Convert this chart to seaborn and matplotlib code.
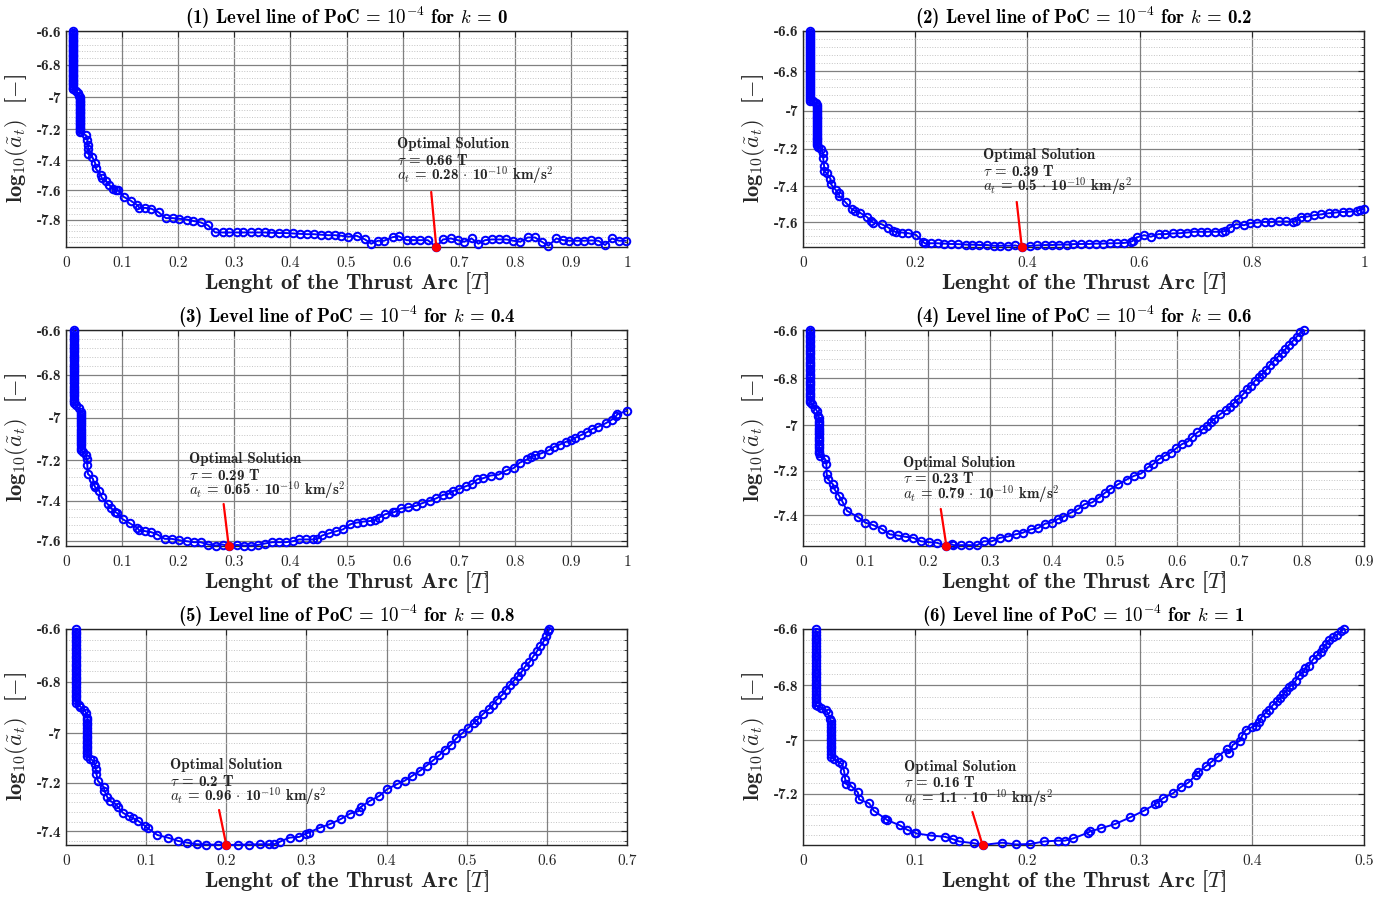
import numpy as np
import pandas as pd
import matplotlib
matplotlib.use("Agg")
import matplotlib.pyplot as plt
from matplotlib.ticker import FixedLocator
import seaborn as sns

# ------------------------------------------------------------------
# Level lines of PoC = 1e-4: thrust-arc length (fraction of T) versus
# log10 of the normalised thrust acceleration, one block per k value.
# Each curve: first vertical run, short transition, second vertical
# run, then the remaining points.
# ------------------------------------------------------------------
k_values = ["0", "0.2", "0.4", "0.6", "0.8", "1"]

# optimal solutions (tau in units of T, a_t in 1e-10 km/s^2)
tau_opt = [0.66, 0.39, 0.29, 0.23, 0.2, 0.16]
at_opt = [0.28, 0.5, 0.65, 0.79, 0.96, 1.1]
ACC_UNIT = 2.75e-3  # km/s^2, acceleration unit used for the normalisation

x_max = [1.0, 1.0, 1.0, 0.9, 0.7, 0.5]
x_step = [0.1, 0.2, 0.1, 0.1, 0.1, 0.1]

# ---- k = 0 ----
k0_run1_tau = 0.013
k0_run1 = [-6.60, -6.61, -6.62, -6.63, -6.64, -6.65, -6.66, -6.67, -6.68, -6.69, -6.70, -6.71,
           -6.72, -6.73, -6.74, -6.75, -6.76, -6.77, -6.78, -6.79, -6.80, -6.81, -6.82, -6.83,
           -6.84, -6.85, -6.86, -6.87, -6.88, -6.89, -6.90, -6.91, -6.92, -6.93, -6.94, -6.95]
k0_mid_tau = [0.018, 0.021, 0.024]
k0_mid = [-6.96, -6.97, -6.99]
k0_run2_tau = 0.025
k0_run2 = [-7.00, -7.01, -7.02, -7.03, -7.04, -7.05, -7.06, -7.07, -7.08, -7.09, -7.10, -7.11,
           -7.12, -7.13, -7.14, -7.15, -7.16, -7.17, -7.18, -7.19, -7.20, -7.21, -7.22]
k0_tail_tau = [0.036, 0.038, 0.039, 0.040, 0.040, 0.047, 0.052, 0.053, 0.062, 0.064, 0.072, 0.077,
               0.084, 0.089, 0.093, 0.103, 0.115, 0.127, 0.131, 0.141, 0.152, 0.165, 0.178, 0.190,
               0.202, 0.215, 0.227, 0.240, 0.253, 0.266, 0.279, 0.291, 0.304, 0.316, 0.329, 0.342,
               0.354, 0.366, 0.379, 0.392, 0.405, 0.417, 0.429, 0.442, 0.455, 0.467, 0.479, 0.491,
               0.503, 0.518, 0.533, 0.544, 0.556, 0.567, 0.582, 0.593, 0.607, 0.619, 0.631, 0.645,
               0.660, 0.672, 0.686, 0.698, 0.710, 0.723, 0.735, 0.747, 0.759, 0.772, 0.785, 0.797,
               0.810, 0.823, 0.836, 0.848, 0.860, 0.874, 0.886, 0.897, 0.910, 0.923, 0.936, 0.949,
               0.961, 0.973, 0.986, 0.998]
k0_tail = [-7.24, -7.27, -7.30, -7.33, -7.36, -7.38, -7.42, -7.455, -7.50, -7.52, -7.54, -7.565,
           -7.59, -7.60, -7.60, -7.645, -7.67, -7.70, -7.72, -7.72, -7.725, -7.75, -7.79, -7.79,
           -7.795, -7.80, -7.81, -7.82, -7.84, -7.89, -7.89, -7.89, -7.89, -7.89, -7.89, -7.89,
           -7.89, -7.892, -7.894, -7.894, -7.897, -7.899, -7.902, -7.902, -7.906, -7.909, -7.909, -7.913,
           -7.92, -7.913, -7.939, -7.969, -7.948, -7.948, -7.923, -7.916, -7.944, -7.944, -7.944, -7.944,
           -7.992, -7.939, -7.932, -7.944, -7.955, -7.932, -7.969, -7.944, -7.939, -7.939, -7.939, -7.948,
           -7.955, -7.925, -7.925, -7.955, -7.983, -7.932, -7.944, -7.948, -7.948, -7.948, -7.946, -7.948,
           -7.978, -7.932, -7.948, -7.948]

# ---- k = 0.2 ----
k2_run1_tau = 0.013
k2_run1 = [-6.60, -6.61, -6.62, -6.63, -6.64, -6.65, -6.66, -6.67, -6.68, -6.69, -6.70, -6.71,
           -6.72, -6.73, -6.74, -6.75, -6.76, -6.77, -6.78, -6.79, -6.80, -6.81, -6.82, -6.83,
           -6.84, -6.85, -6.86, -6.87, -6.88, -6.89, -6.90, -6.91, -6.92, -6.93, -6.94, -6.95]
k2_mid_tau = [0.018, 0.0226]
k2_mid = [-6.95, -6.96]
k2_run2_tau = 0.0246
k2_run2 = [-6.97, -6.98, -6.99, -7.00, -7.01, -7.02, -7.03, -7.04, -7.05, -7.06, -7.07, -7.08,
           -7.09, -7.10, -7.11, -7.12, -7.13, -7.14, -7.15, -7.16, -7.17, -7.18]
k2_tail_tau = [0.027, 0.032, 0.0355, 0.036, 0.0376, 0.038, 0.042, 0.049, 0.050, 0.058,
               0.0636, 0.065, 0.076, 0.087, 0.092, 0.101, 0.114, 0.121, 0.125, 0.140,
               0.152, 0.161, 0.165, 0.176, 0.188, 0.2016, 0.214, 0.217, 0.228, 0.240,
               0.2515, 0.263, 0.277, 0.291, 0.302, 0.314, 0.328, 0.340, 0.352, 0.366,
               0.378, 0.390, 0.404, 0.4176, 0.431, 0.444, 0.456, 0.470, 0.482, 0.4956,
               0.509, 0.5215, 0.535, 0.547, 0.5605, 0.573, 0.584, 0.588, 0.595, 0.608,
               0.620, 0.634, 0.646, 0.660, 0.672, 0.685, 0.697, 0.710, 0.721, 0.735,
               0.747, 0.752, 0.761, 0.772, 0.786, 0.796, 0.810, 0.824, 0.835, 0.848,
               0.861, 0.873, 0.878, 0.887, 0.899, 0.911, 0.924, 0.937, 0.949, 0.962,
               0.974, 0.988, 0.992, 1.000]
k2_tail = [-7.19, -7.20, -7.22, -7.25, -7.29, -7.32, -7.33, -7.36, -7.39, -7.42,
           -7.44, -7.455, -7.49, -7.527, -7.535, -7.546, -7.571, -7.593, -7.602, -7.611,
           -7.630, -7.649, -7.655, -7.658, -7.662, -7.672, -7.711, -7.719, -7.719, -7.719,
           -7.721, -7.723, -7.724, -7.727, -7.727, -7.729, -7.729, -7.733, -7.733, -7.733,
           -7.731, -7.740, -7.734, -7.731, -7.729, -7.729, -7.727, -7.727, -7.724, -7.723,
           -7.723, -7.721, -7.721, -7.719, -7.719, -7.717, -7.711, -7.705, -7.686, -7.673,
           -7.682, -7.667, -7.667, -7.663, -7.662, -7.658, -7.654, -7.654, -7.654, -7.654,
           -7.654, -7.649, -7.630, -7.611, -7.617, -7.606, -7.602, -7.598, -7.598, -7.596,
           -7.596, -7.598, -7.593, -7.571, -7.569, -7.561, -7.556, -7.550, -7.546, -7.543,
           -7.541, -7.539, -7.533, -7.527]

# ---- k = 0.4 ----
k4_run1_tau = 0.0137
k4_run1 = [-6.60, -6.61, -6.62, -6.63, -6.64, -6.65, -6.66, -6.67, -6.68, -6.69, -6.70, -6.71,
           -6.72, -6.73, -6.74, -6.75, -6.76, -6.77, -6.78, -6.79, -6.80, -6.81, -6.82, -6.83,
           -6.84, -6.85, -6.86, -6.87, -6.88, -6.89, -6.90, -6.91, -6.92, -6.93]
k4_mid_tau = [0.018, 0.0226]
k4_mid = [-6.94, -6.955]
k4_run2_tau = 0.026
k4_run2 = [-6.97, -6.98, -6.99, -7.00, -7.01, -7.02, -7.03, -7.04, -7.05, -7.06, -7.07, -7.08,
           -7.09, -7.10, -7.11, -7.12, -7.13, -7.14, -7.15]
k4_tail_tau = [0.031, 0.035, 0.037, 0.038, 0.039, 0.048, 0.050, 0.052, 0.059, 0.0636,
               0.074, 0.081, 0.0875, 0.091, 0.101, 0.1135, 0.127, 0.130, 0.141, 0.152,
               0.163, 0.176, 0.1887, 0.202, 0.215, 0.2276, 0.240, 0.2536, 0.2666, 0.279,
               0.290, 0.305, 0.317, 0.329, 0.342, 0.354, 0.368, 0.380, 0.392, 0.405,
               0.4156, 0.428, 0.441, 0.448, 0.4566, 0.469, 0.482, 0.494, 0.506, 0.518,
               0.530, 0.542, 0.551, 0.558, 0.569, 0.583, 0.5865, 0.597, 0.610, 0.624,
               0.634, 0.648, 0.660, 0.672, 0.682, 0.689, 0.701, 0.713, 0.7245, 0.733,
               0.744, 0.757, 0.771, 0.785, 0.798, 0.8086, 0.822, 0.829, 0.836, 0.846,
               0.861, 0.870, 0.880, 0.891, 0.901, 0.908, 0.918, 0.928, 0.9385, 0.949,
               0.962, 0.973, 0.980, 0.983, 1.000]
k4_tail = [-7.161, -7.174, -7.193, -7.226, -7.267, -7.291, -7.321, -7.332, -7.349, -7.382,
           -7.415, -7.437, -7.454, -7.460, -7.491, -7.511, -7.534, -7.546, -7.551, -7.556,
           -7.568, -7.590, -7.590, -7.597, -7.602, -7.607, -7.607, -7.619, -7.624, -7.619,
           -7.626, -7.621, -7.624, -7.624, -7.621, -7.614, -7.607, -7.607, -7.607, -7.602,
           -7.593, -7.593, -7.593, -7.590, -7.573, -7.562, -7.551, -7.542, -7.517, -7.508,
           -7.503, -7.500, -7.496, -7.483, -7.466, -7.457, -7.454, -7.437, -7.432, -7.424,
           -7.412, -7.399, -7.387, -7.370, -7.365, -7.352, -7.341, -7.327, -7.316, -7.294,
           -7.288, -7.275, -7.271, -7.250, -7.239, -7.213, -7.197, -7.185, -7.177, -7.169,
           -7.153, -7.137, -7.126, -7.113, -7.105, -7.093, -7.081, -7.068, -7.052, -7.041,
           -7.025, -7.008, -6.993, -6.982, -6.967]

# ---- k = 0.6 ----
k6_run1_tau = 0.0117
k6_run1 = [-6.60, -6.61, -6.62, -6.63, -6.64, -6.65, -6.66, -6.67, -6.68, -6.69, -6.70, -6.71,
           -6.72, -6.73, -6.74, -6.75, -6.76, -6.77, -6.78, -6.79, -6.80, -6.81, -6.82, -6.83,
           -6.84, -6.85, -6.86, -6.87, -6.88, -6.89, -6.90]
k6_mid_tau = [0.015, 0.020, 0.0227, 0.0246]
k6_mid = [-6.91, -6.93, -6.94, -6.96]
k6_run2_tau = 0.0258
k6_run2 = [-6.97, -6.98, -6.99, -7.00, -7.01, -7.02, -7.03, -7.04, -7.05, -7.06, -7.07, -7.08,
           -7.09, -7.10, -7.11, -7.12]
k6_tail_tau = [0.0276, 0.0356, 0.0375, 0.038, 0.040, 0.048, 0.0504, 0.058, 0.0627, 0.0706,
               0.088, 0.100, 0.1124, 0.126, 0.1394, 0.1517, 0.164, 0.177, 0.189, 0.2015,
               0.215, 0.230, 0.2396, 0.241, 0.2537, 0.266, 0.2795, 0.290, 0.303, 0.3163,
               0.3286, 0.341, 0.353, 0.3655, 0.3765, 0.389, 0.399, 0.4085, 0.4177, 0.430,
               0.441, 0.4515, 0.4638, 0.4748, 0.485, 0.493, 0.5055, 0.519, 0.5313, 0.5424,
               0.5528, 0.562, 0.5713, 0.580, 0.590, 0.599, 0.608, 0.6173, 0.6235, 0.6327,
               0.642, 0.648, 0.654, 0.660, 0.6695, 0.679, 0.685, 0.691, 0.698, 0.7064,
               0.7125, 0.7187, 0.725, 0.731, 0.737, 0.743, 0.7494, 0.7555, 0.7617, 0.768,
               0.774, 0.780, 0.786, 0.792, 0.798, 0.803]
k6_tail = [-7.134, -7.148, -7.170, -7.215, -7.237, -7.260, -7.282, -7.312, -7.335, -7.380,
           -7.408, -7.434, -7.445, -7.462, -7.488, -7.493, -7.499, -7.504, -7.520, -7.524,
           -7.527, -7.542, -7.535, -7.538, -7.538, -7.538, -7.538, -7.520, -7.520, -7.504,
           -7.498, -7.488, -7.480, -7.465, -7.460, -7.438, -7.434, -7.418, -7.408, -7.388,
           -7.373, -7.350, -7.342, -7.320, -7.297, -7.282, -7.260, -7.239, -7.222, -7.212,
           -7.185, -7.170, -7.148, -7.134, -7.119, -7.100, -7.082, -7.071, -7.053, -7.031,
           -7.017, -7.002, -6.988, -6.973, -6.952, -6.935, -6.920, -6.905, -6.888, -6.866,
           -6.845, -6.831, -6.810, -6.796, -6.782, -6.765, -6.743, -6.726, -6.710, -6.696,
           -6.678, -6.660, -6.644, -6.627, -6.610, -6.600]

# ---- k = 0.8 ----
k8_run1_tau = 0.0124
k8_run1 = [-6.60, -6.61, -6.62, -6.63, -6.64, -6.65, -6.66, -6.67, -6.68, -6.69, -6.70, -6.71,
           -6.72, -6.73, -6.74, -6.75, -6.76, -6.77, -6.78, -6.79, -6.80, -6.81, -6.82, -6.83,
           -6.84, -6.85, -6.86, -6.87, -6.88]
k8_mid_tau = [0.0158, 0.018, 0.023, 0.0254]
k8_mid = [-6.889, -6.896, -6.909, -6.922]
k8_run2_tau = 0.0268
k8_run2 = [-6.94, -6.95, -6.96, -6.97, -6.98, -6.99, -7.00, -7.01, -7.02, -7.03, -7.04, -7.05,
           -7.06, -7.07, -7.08, -7.09]
k8_tail_tau = [0.030, 0.0335, 0.036, 0.037, 0.038, 0.0397, 0.047, 0.048, 0.0517, 0.055,
               0.062, 0.0646, 0.0708, 0.078, 0.0837, 0.090, 0.0986, 0.102, 0.114, 0.127,
               0.140, 0.151, 0.163, 0.175, 0.1895, 0.200, 0.2144, 0.2278, 0.242, 0.2536,
               0.260, 0.267, 0.279, 0.291, 0.2995, 0.303, 0.317, 0.329, 0.3426, 0.3545,
               0.365, 0.368, 0.3794, 0.391, 0.401, 0.413, 0.4225, 0.432, 0.442, 0.450,
               0.458, 0.4656, 0.4727, 0.480, 0.487, 0.4943, 0.5014, 0.5086, 0.513, 0.5206,
               0.5277, 0.5325, 0.5373, 0.5445, 0.549, 0.554, 0.5589, 0.5636, 0.568, 0.573,
               0.578, 0.583, 0.5876, 0.592, 0.596, 0.5995, 0.602, 0.603]
k8_tail = [-7.103, -7.109, -7.123, -7.143, -7.164, -7.191, -7.216, -7.232, -7.259, -7.273,
           -7.287, -7.298, -7.322, -7.336, -7.345, -7.356, -7.377, -7.387, -7.415, -7.426,
           -7.440, -7.447, -7.454, -7.455, -7.456, -7.457, -7.456, -7.455, -7.454, -7.454,
           -7.454, -7.443, -7.426, -7.423, -7.409, -7.405, -7.384, -7.370, -7.349, -7.326,
           -7.315, -7.298, -7.273, -7.253, -7.225, -7.205, -7.191, -7.171, -7.150, -7.130,
           -7.109, -7.089, -7.066, -7.048, -7.021, -7.001, -6.981, -6.961, -6.948, -6.924,
           -6.906, -6.889, -6.869, -6.850, -6.830, -6.811, -6.795, -6.779, -6.764, -6.741,
           -6.726, -6.703, -6.684, -6.663, -6.646, -6.628, -6.609, -6.600]

# ---- k = 1 ----
k10_run1_tau = 0.0113
k10_run1 = [-6.60, -6.61, -6.62, -6.63, -6.64, -6.65, -6.66, -6.67, -6.68, -6.69, -6.70, -6.71,
            -6.72, -6.73, -6.74, -6.75, -6.76, -6.77, -6.78, -6.79, -6.80, -6.81, -6.82, -6.83,
            -6.84, -6.85, -6.86, -6.87]
k10_mid_tau = [0.0137, 0.016, 0.0205, 0.022, 0.024]
k10_mid = [-6.875, -6.88, -6.89, -6.90, -6.92]
k10_run2_tau = 0.025
k10_run2 = [-6.93, -6.94, -6.95, -6.96, -6.97, -6.98, -6.99, -7.00, -7.01, -7.02, -7.03, -7.04,
            -7.05, -7.06]
k10_tail_tau = [0.0273, 0.0318, 0.035, 0.0366, 0.0376, 0.0386, 0.0427, 0.0489, 0.050, 0.059,
                0.063, 0.0735, 0.075, 0.0865, 0.093, 0.100, 0.101, 0.1138, 0.1265, 0.134,
                0.139, 0.152, 0.160, 0.1777, 0.190, 0.2027, 0.215, 0.227, 0.2334, 0.241,
                0.254, 0.256, 0.2656, 0.2785, 0.2915, 0.304, 0.314, 0.316, 0.321, 0.330,
                0.337, 0.3435, 0.350, 0.352, 0.359, 0.364, 0.370, 0.3777, 0.380, 0.383,
                0.3896, 0.3913, 0.3947, 0.3999, 0.4033, 0.4067, 0.4084, 0.4125, 0.4152, 0.4187,
                0.4228, 0.4255, 0.4282, 0.4306, 0.433, 0.4357, 0.439, 0.442, 0.446, 0.4477,
                0.451, 0.4545, 0.458, 0.4614, 0.4638, 0.4665, 0.4692, 0.4727, 0.476, 0.4795,
                0.482]
k10_tail = [-7.070, -7.080, -7.089, -7.114, -7.145, -7.164, -7.170, -7.195, -7.222, -7.237,
            -7.265, -7.296, -7.301, -7.322, -7.339, -7.350, -7.353, -7.361, -7.366, -7.376,
            -7.384, -7.391, -7.398, -7.389, -7.396, -7.394, -7.384, -7.381, -7.381, -7.372,
            -7.350, -7.345, -7.333, -7.316, -7.291, -7.265, -7.240, -7.234, -7.217, -7.198,
            -7.174, -7.158, -7.130, -7.119, -7.097, -7.080, -7.060, -7.032, -7.047, -7.017,
            -7.001, -6.983, -6.961, -6.952, -6.946, -6.932, -6.916, -6.898, -6.888, -6.871,
            -6.856, -6.844, -6.832, -6.820, -6.804, -6.800, -6.784, -6.764, -6.752, -6.737,
            -6.729, -6.707, -6.693, -6.682, -6.666, -6.651, -6.637, -6.628, -6.620, -6.608,
            -6.600]

curves = [
    (k0_run1_tau, k0_run1, k0_mid_tau, k0_mid, k0_run2_tau, k0_run2, k0_tail_tau, k0_tail),
    (k2_run1_tau, k2_run1, k2_mid_tau, k2_mid, k2_run2_tau, k2_run2, k2_tail_tau, k2_tail),
    (k4_run1_tau, k4_run1, k4_mid_tau, k4_mid, k4_run2_tau, k4_run2, k4_tail_tau, k4_tail),
    (k6_run1_tau, k6_run1, k6_mid_tau, k6_mid, k6_run2_tau, k6_run2, k6_tail_tau, k6_tail),
    (k8_run1_tau, k8_run1, k8_mid_tau, k8_mid, k8_run2_tau, k8_run2, k8_tail_tau, k8_tail),
    (k10_run1_tau, k10_run1, k10_mid_tau, k10_mid, k10_run2_tau, k10_run2, k10_tail_tau, k10_tail),
]


def curve_frame(r1_tau, r1, m_tau, m, r2_tau, r2, t_tau, t):
    tau = [r1_tau] * len(r1) + list(m_tau) + [r2_tau] * len(r2) + list(t_tau)
    acc = list(r1) + list(m) + list(r2) + list(t)
    return pd.DataFrame({"tau": tau, "acc": acc})


# y axis: logarithmic in |log10(a)| (values are all negative)
def y_forward(y):
    y = np.asarray(y, dtype=float)
    return -np.log10(np.clip(-y, 1e-6, None))


def y_inverse(z):
    z = np.asarray(z, dtype=float)
    return -np.power(10.0, -z)


def fmt(v):
    return f"{v:g}"


# ---- style ----
sns.set_theme(style="white")
plt.rcParams["font.family"] = ["cmb10"]
plt.rcParams["mathtext.fontset"] = "cm"
plt.rcParams["axes.unicode_minus"] = False

BLUE = "#0000ff"
RED = "#ff0000"
INK = "#262626"

W, H = 1391, 898
fig = plt.figure(figsize=(W / 100, H / 100), dpi=100)
fig.patch.set_facecolor("white")

ax_w, ax_h = 561, 216
lefts = [66, 803]
bottoms = [247, 546, 845]

# annotation layout: height of the first text line and of the leader top above the point (px)
note_layout = [(103, 55), (92, 45), (87, 42), (83, 37), (80, 35), (78, 33)]

for i in range(6):
    row, col = divmod(i, 2)
    ax = fig.add_axes([lefts[col] / W, 1 - bottoms[row] / H, ax_w / W, ax_h / H])
    ax.set_facecolor("white")
    df = curve_frame(*curves[i])

    y_opt = float(np.log10(at_opt[i] * 1e-10 / ACC_UNIT))
    y_min = min(df["acc"].min(), y_opt)

    sns.lineplot(data=df, x="tau", y="acc", ax=ax, sort=False, estimator=None,
                 color=BLUE, linewidth=1.4, marker="o", markersize=5.4,
                 markerfacecolor="none", markeredgecolor=BLUE, markeredgewidth=1.45,
                 clip_on=False, zorder=3)

    ax.set_yscale("function", functions=(y_forward, y_inverse))
    ax.set_xlim(0, x_max[i])
    ax.set_ylim(y_min, -6.6)

    xt = np.round(np.arange(0, x_max[i] + 1e-9, x_step[i]), 2)
    ax.set_xticks(xt, labels=[fmt(v) for v in xt])
    yt = [v for v in np.round(np.arange(-6.6, y_min - 1e-9, -0.2), 1) if v >= y_min]
    ax.set_yticks(yt, labels=[fmt(v) for v in yt])
    minor = [v for v in np.round(np.arange(-6.6, y_min - 1e-9, -0.04), 2)
             if v >= y_min and abs(round(v / 0.2) * 0.2 - v) > 1e-6]
    ax.yaxis.set_minor_locator(FixedLocator(minor))

    ax.grid(which="major", color="#808080", linewidth=0.9, linestyle="-")
    ax.grid(which="minor", axis="y", color="#c4c4c4", linewidth=0.7, linestyle=":")
    ax.set_axisbelow(True)

    ax.tick_params(which="both", direction="in", top=True, right=True, colors=INK)
    ax.tick_params(which="major", length=4, width=0.8)
    ax.tick_params(which="minor", length=2, width=0.6)
    ax.tick_params(axis="x", which="major", pad=7, labelsize=11)
    ax.tick_params(axis="y", which="major", pad=3, labelsize=11)
    for lab in ax.get_xticklabels():
        lab.set_fontfamily("cmr10")
    for sp in ax.spines.values():
        sp.set_color(INK)
        sp.set_linewidth(1.0)

    ax.set_title(f"({i + 1}) Level line of PoC = " + r"$\mathbf{10^{-4}}$" + f" for $k$ = {k_values[i]}",
                 fontsize=13.6, pad=5, color="black")
    ax.set_xlabel("Lenght of the Thrust Arc [$T$]", fontsize=16.2, color=INK)
    ax.set_ylabel(r"$\mathbf{log}_{\mathbf{10}}\mathbf{(}\tilde{a}_{t}\mathbf{)}$  [$-$]",
                  fontsize=16.2, color=INK)
    ax.xaxis.set_label_coords(0.5, -23 / ax_h)
    ax.xaxis.label.set_verticalalignment("top")
    ax.yaxis.set_label_coords(-36 / ax_w, 0.5)

    # optimal point, leader line and note
    tau = tau_opt[i]
    line1_h, lead_h = note_layout[i]
    p = ax.transData.transform((tau, y_opt))
    top_x = ax.transData.transform((tau - 0.009, y_opt))[0]
    top = ax.transData.inverted().transform((top_x, p[1] + lead_h))
    ax.plot([top[0], tau], [top[1], y_opt], color=RED, linewidth=1.6, zorder=5, clip_on=False)
    ax.plot([tau], [y_opt], marker="o", color=RED, markersize=5.5, zorder=6, clip_on=False)

    lines = ["Optimal Solution",
             r"$\tau$ = " + f"{tau:g} T",
             r"$a_t$ = " + f"{at_opt[i]:g}" + r" $\cdot$ 10$^{\mathbf{-10}}$ km/s$^{\mathbf{2}}$"]
    for j, txt in enumerate(lines):
        ax.annotate(txt, xy=(tau - 0.07, y_opt), xytext=(0, line1_h - 16 * j),
                    textcoords="offset pixels", ha="left", va="center",
                    fontsize=10.8, color=INK, zorder=7)

fig.savefig("out.png", dpi=100, facecolor="white")
